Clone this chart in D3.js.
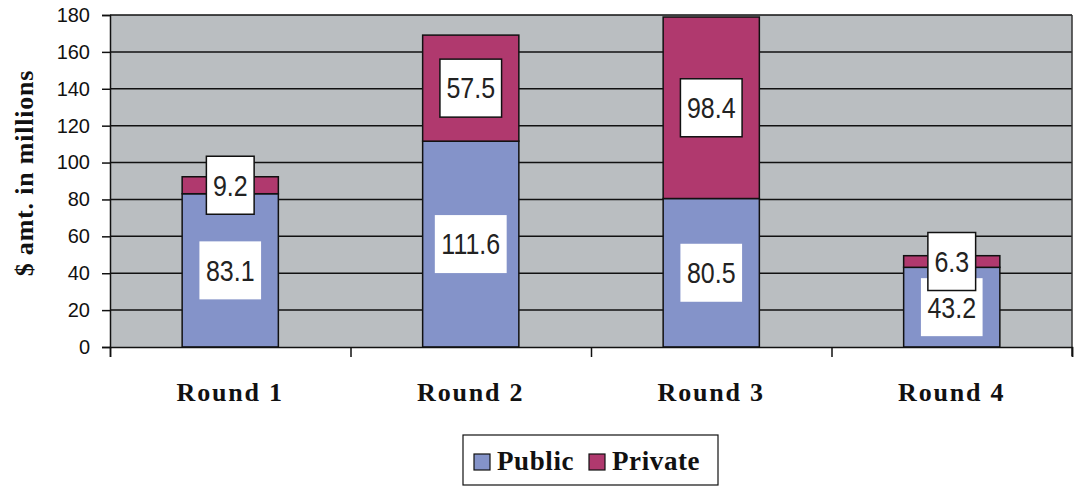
<!DOCTYPE html>
<html><head><meta charset="utf-8">
<script src="https://cdn.jsdelivr.net/npm/d3@7"></script>
<style>body{margin:0;background:#fff}</style>
</head><body>
<svg id="c" width="1074" height="487"></svg>
<script>
const categories = ["Round 1","Round 2","Round 3","Round 4"];
const publicVals = [83.1, 111.6, 80.5, 43.2];
const privateVals = [9.2, 57.5, 98.4, 6.3];
const yTicks = [0,20,40,60,80,100,120,140,160,180];
const seriesNames = ["Public","Private"];
const colors = {Public:"#8493c9", Private:"#b0396e"};

const svg = d3.select("#c");
const L=110, R=1072, T=15, B=347;
const y = d3.scaleLinear().domain([0,180]).range([B,T]);
const x = d3.scaleBand().domain(categories).range([L,R]).paddingInner(0.6).paddingOuter(0.3);

// plot background
svg.append("rect").attr("x",L).attr("y",T).attr("width",R-L).attr("height",B-T).attr("fill","#babec1");

// gridlines
svg.append("g").selectAll("line").data(yTicks.filter(d=>d>0)).join("line")
  .attr("x1",L).attr("x2",R).attr("y1",d=>y(d)).attr("y2",d=>y(d))
  .attr("stroke","#111").attr("stroke-width",1.5);
// right border
svg.append("line").attr("x1",R).attr("x2",R).attr("y1",T).attr("y2",B+9).attr("stroke","#333").attr("stroke-width",1.5);

// stacked data
const rows = categories.map((c,i)=>({cat:c, Public:publicVals[i], Private:privateVals[i]}));
const stack = d3.stack().keys(seriesNames)(rows);

const gBars = svg.append("g");
stack.forEach(s=>{
  gBars.selectAll(null).data(s).join("rect")
    .attr("x",d=>x(d.data.cat)).attr("width",x.bandwidth())
    .attr("y",d=>y(d[1])).attr("height",d=>y(d[0])-y(d[1]))
    .attr("fill",colors[s.key]).attr("stroke","#111").attr("stroke-width",1.5);
});

// y axis
const yAxis = svg.append("g").attr("transform",`translate(${L},0)`)
  .call(d3.axisLeft(y).tickValues(yTicks).tickSize(8).tickPadding(12).tickFormat(d3.format("d")));
yAxis.select(".domain").attr("stroke","#111").attr("stroke-width",1.5);
yAxis.selectAll(".tick line").attr("stroke","#111").attr("stroke-width",1.5);
yAxis.selectAll("text").attr("font-family","'Liberation Sans',Arial,sans-serif").attr("font-size",20).attr("fill","#111");

// x axis
const xb = d3.scaleLinear().domain([0,categories.length]).range([L,R]);
const xAxis = svg.append("g").attr("transform",`translate(0,${B})`)
  .call(d3.axisBottom(xb).ticks(categories.length).tickSize(10).tickFormat(""));
xAxis.select(".domain").attr("stroke","#111").attr("stroke-width",1.5);
xAxis.selectAll(".tick line").attr("stroke","#111").attr("stroke-width",1.5);

svg.append("g").selectAll("text").data(categories).join("text")
  .attr("x",d=>x(d)+x.bandwidth()/2).attr("y",401)
  .attr("text-anchor","middle").attr("font-family","'Liberation Serif','Times New Roman',serif")
  .attr("font-weight","bold").attr("font-size",26).attr("letter-spacing",1.8).attr("fill","#111")
  .text(d=>d);

// y title
svg.append("text").attr("transform","translate(33,173) rotate(-90)")
  .attr("text-anchor","middle").attr("font-family","'Liberation Serif','Times New Roman',serif")
  .attr("font-weight","bold").attr("font-size",26).attr("letter-spacing",0.8).attr("fill","#111").text("$ amt. in millions");

// data labels
const gLab = svg.append("g");
const fmt = d3.format(".1f");
stack.forEach(s=>{
  s.forEach(d=>{
    const cx = x(d.data.cat)+x.bandwidth()/2;
    const cy = y((d[0]+d[1])/2);
    const g = gLab.append("g").attr("transform",`translate(${cx},${cy})`);
    const t = g.append("text").attr("text-anchor","middle").attr("dy","0.36em")
      .attr("transform","scale(1,1.15)")
      .attr("font-family","'Liberation Sans',Arial,sans-serif").attr("font-size",25).attr("fill","#222")
      .text(fmt(d[1]-d[0]));
    const w = t.node().getComputedTextLength()+13;
    const h = 58;
    g.insert("rect","text").attr("x",-w/2).attr("y",-h/2).attr("width",w).attr("height",h)
      .attr("fill","#fff").attr("stroke",s.key==="Private"?"#111":"none").attr("stroke-width",1.5);
  });
});

// legend
const lg = svg.append("g");
lg.append("rect").attr("x",463).attr("y",435).attr("width",255).attr("height",50)
  .attr("fill","#fff").attr("stroke","#111").attr("stroke-width",1.2);
const legX = [474, 589];
seriesNames.forEach((n,i)=>{
  lg.append("rect").attr("x",legX[i]).attr("y",454).attr("width",16).attr("height",16)
    .attr("fill",colors[n]).attr("stroke","#111").attr("stroke-width",1.2);
  lg.append("text").attr("x",legX[i]+23).attr("y",470)
    .attr("font-family","'Liberation Serif','Times New Roman',serif").attr("font-weight","bold")
    .attr("font-size",27).attr("letter-spacing",0.6).attr("fill","#111").text(n);
});
</script>
</body></html>
